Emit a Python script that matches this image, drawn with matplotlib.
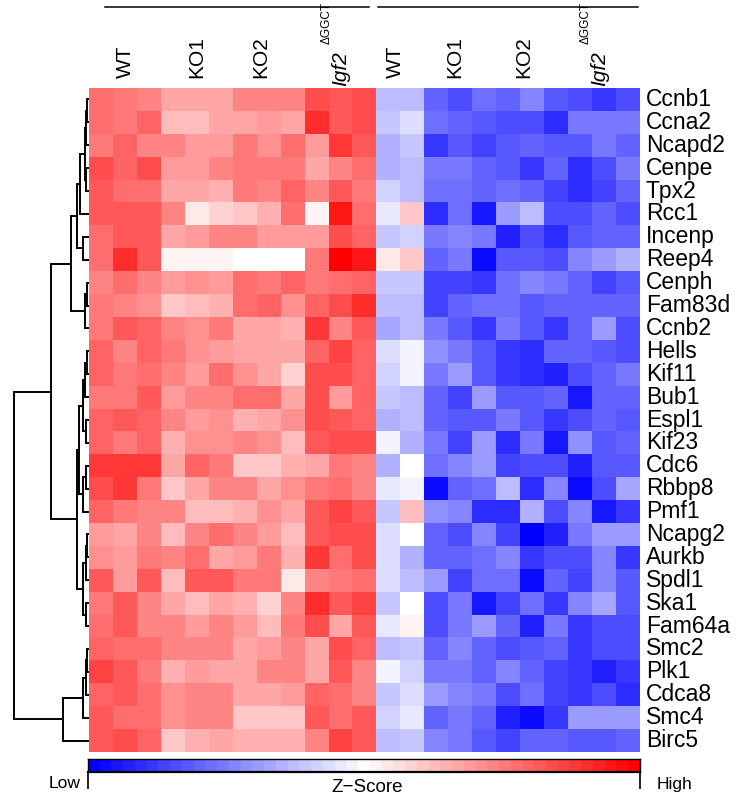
import numpy as np
import matplotlib
matplotlib.use("Agg")
import matplotlib.pyplot as plt
from matplotlib.colors import LinearSegmentedColormap
from matplotlib.transforms import blended_transform_factory, offset_copy
from matplotlib.lines import Line2D

plt.rcParams['font.family'] = ['Liberation Sans', 'DejaVu Sans']

genes = ["Ccnb1", "Ccna2", "Ncapd2", "Cenpe", "Tpx2", "Rcc1", "Incenp", "Reep4",
         "Cenph", "Fam83d", "Ccnb2", "Hells", "Kif11", "Bub1", "Espl1", "Kif23",
         "Cdc6", "Rbbp8", "Pmf1", "Ncapg2", "Aurkb", "Spdl1", "Ska1", "Fam64a",
         "Smc2", "Plk1", "Cdca8", "Smc4", "Birc5"]

group_labels = ["WT", "KO1", "KO2", "Igf2", "WT", "KO1", "KO2", "Igf2"]
group_superscripts = ["", "", "", "\u0394GGCT", "", "", "", "\u0394GGCT"]
group_sizes = [3, 3, 3, 3, 2, 3, 3, 3]

# z-scores, first block of 12 samples
zscore_left = [
    [0.55, 0.50, 0.47, 0.33, 0.33, 0.33, 0.45, 0.45, 0.45, 0.68, 0.63, 0.68],
    [0.55, 0.50, 0.60, 0.25, 0.25, 0.35, 0.35, 0.38, 0.35, 0.80, 0.65, 0.70],
    [0.50, 0.60, 0.45, 0.45, 0.40, 0.40, 0.50, 0.42, 0.55, 0.40, 0.78, 0.62],
    [0.70, 0.60, 0.68, 0.40, 0.40, 0.45, 0.50, 0.50, 0.50, 0.35, 0.48, 0.55],
    [0.62, 0.55, 0.55, 0.35, 0.35, 0.30, 0.50, 0.48, 0.58, 0.48, 0.62, 0.50],
    [0.62, 0.62, 0.62, 0.45, 0.10, 0.17, 0.20, 0.30, 0.55, 0.04, 0.88, 0.55],
    [0.57, 0.62, 0.62, 0.33, 0.38, 0.47, 0.47, 0.40, 0.40, 0.38, 0.70, 0.58],
    [0.55, 0.80, 0.65, 0.04, 0.04, 0.04, 0.00, 0.00, 0.00, 0.50, 1.00, 0.88],
    [0.45, 0.55, 0.48, 0.38, 0.42, 0.38, 0.55, 0.50, 0.58, 0.50, 0.55, 0.60],
    [0.50, 0.45, 0.42, 0.20, 0.25, 0.30, 0.55, 0.58, 0.42, 0.60, 0.68, 0.80],
    [0.50, 0.62, 0.58, 0.48, 0.42, 0.50, 0.33, 0.33, 0.30, 0.75, 0.48, 0.62],
    [0.60, 0.45, 0.58, 0.50, 0.42, 0.40, 0.33, 0.33, 0.33, 0.60, 0.72, 0.60],
    [0.60, 0.50, 0.55, 0.45, 0.40, 0.55, 0.42, 0.33, 0.17, 0.68, 0.68, 0.60],
    [0.50, 0.50, 0.62, 0.37, 0.48, 0.48, 0.55, 0.55, 0.35, 0.68, 0.40, 0.60],
    [0.58, 0.65, 0.60, 0.48, 0.40, 0.43, 0.28, 0.33, 0.43, 0.70, 0.65, 0.60],
    [0.58, 0.50, 0.60, 0.28, 0.43, 0.43, 0.48, 0.42, 0.25, 0.62, 0.68, 0.68],
    [0.75, 0.75, 0.75, 0.33, 0.60, 0.50, 0.20, 0.20, 0.28, 0.33, 0.52, 0.45],
    [0.70, 0.75, 0.50, 0.20, 0.33, 0.45, 0.45, 0.35, 0.42, 0.50, 0.55, 0.48],
    [0.58, 0.50, 0.47, 0.47, 0.25, 0.25, 0.30, 0.42, 0.35, 0.62, 0.72, 0.62],
    [0.40, 0.35, 0.47, 0.25, 0.47, 0.55, 0.47, 0.40, 0.25, 0.62, 0.68, 0.70],
    [0.42, 0.40, 0.50, 0.47, 0.55, 0.35, 0.40, 0.50, 0.30, 0.75, 0.55, 0.68],
    [0.62, 0.40, 0.62, 0.27, 0.62, 0.65, 0.50, 0.50, 0.08, 0.47, 0.52, 0.55],
    [0.50, 0.62, 0.45, 0.35, 0.25, 0.35, 0.30, 0.17, 0.45, 0.82, 0.62, 0.72],
    [0.55, 0.62, 0.45, 0.45, 0.40, 0.45, 0.40, 0.25, 0.50, 0.68, 0.35, 0.62],
    [0.60, 0.55, 0.55, 0.48, 0.48, 0.45, 0.35, 0.40, 0.45, 0.35, 0.70, 0.58],
    [0.72, 0.65, 0.50, 0.28, 0.38, 0.33, 0.35, 0.47, 0.47, 0.33, 0.62, 0.47],
    [0.60, 0.62, 0.55, 0.42, 0.47, 0.47, 0.35, 0.35, 0.40, 0.58, 0.55, 0.48],
    [0.65, 0.55, 0.55, 0.42, 0.47, 0.47, 0.22, 0.20, 0.20, 0.62, 0.55, 0.65],
    [0.62, 0.70, 0.60, 0.22, 0.30, 0.35, 0.30, 0.30, 0.28, 0.48, 0.72, 0.62],
]

# z-scores, second block of 11 samples
zscore_right = [
    [-0.25, -0.25, -0.60, -0.67, -0.55, -0.60, -0.45, -0.63, -0.68, -0.75, -0.68],
    [-0.20, -0.13, -0.55, -0.60, -0.65, -0.68, -0.68, -0.80, -0.53, -0.53, -0.53],
    [-0.28, -0.20, -0.78, -0.63, -0.72, -0.62, -0.58, -0.63, -0.63, -0.50, -0.60],
    [-0.30, -0.25, -0.53, -0.53, -0.58, -0.62, -0.78, -0.60, -0.80, -0.68, -0.52],
    [-0.17, -0.25, -0.55, -0.55, -0.60, -0.55, -0.60, -0.73, -0.80, -0.73, -0.60],
    [-0.08, 0.20, -0.80, -0.55, -0.88, -0.40, -0.25, -0.68, -0.68, -0.60, -0.70],
    [-0.20, -0.15, -0.50, -0.45, -0.50, -0.85, -0.68, -0.80, -0.63, -0.60, -0.60],
    [0.08, 0.20, -0.60, -0.50, -0.93, -0.63, -0.63, -0.68, -0.47, -0.40, -0.28],
    [-0.20, -0.20, -0.72, -0.72, -0.75, -0.55, -0.45, -0.50, -0.60, -0.72, -0.62],
    [-0.25, -0.25, -0.72, -0.60, -0.57, -0.55, -0.62, -0.58, -0.58, -0.58, -0.58],
    [-0.35, -0.25, -0.50, -0.65, -0.75, -0.53, -0.65, -0.75, -0.58, -0.38, -0.68],
    [-0.13, -0.05, -0.42, -0.53, -0.65, -0.75, -0.80, -0.58, -0.60, -0.62, -0.68],
    [-0.17, -0.05, -0.50, -0.38, -0.62, -0.75, -0.80, -0.83, -0.68, -0.60, -0.50],
    [-0.22, -0.25, -0.60, -0.72, -0.38, -0.65, -0.65, -0.60, -0.88, -0.60, -0.60],
    [-0.30, -0.25, -0.58, -0.65, -0.65, -0.50, -0.62, -0.75, -0.68, -0.60, -0.63],
    [-0.05, -0.30, -0.53, -0.72, -0.38, -0.80, -0.53, -0.88, -0.43, -0.65, -0.60],
    [-0.30, 0.00, -0.55, -0.47, -0.38, -0.72, -0.68, -0.68, -0.85, -0.65, -0.65],
    [-0.10, -0.05, -0.93, -0.60, -0.55, -0.25, -0.80, -0.47, -0.93, -0.68, -0.32],
    [-0.20, 0.27, -0.42, -0.45, -0.80, -0.80, -0.30, -0.70, -0.45, -0.88, -0.78],
    [-0.13, 0.00, -0.60, -0.67, -0.47, -0.72, -1.00, -0.83, -0.50, -0.37, -0.37],
    [-0.13, -0.30, -0.60, -0.60, -0.55, -0.45, -0.77, -0.67, -0.67, -0.45, -0.78],
    [-0.13, -0.25, -0.40, -0.72, -0.55, -0.55, -0.93, -0.60, -0.72, -0.45, -0.62],
    [-0.20, 0.00, -0.67, -0.50, -0.88, -0.72, -0.55, -0.75, -0.45, -0.33, -0.62],
    [-0.07, 0.04, -0.67, -0.50, -0.37, -0.60, -0.85, -0.53, -0.78, -0.70, -0.70],
    [-0.27, -0.20, -0.60, -0.47, -0.58, -0.67, -0.62, -0.60, -0.75, -0.67, -0.67],
    [-0.05, -0.17, -0.50, -0.50, -0.58, -0.45, -0.58, -0.72, -0.75, -0.85, -0.75],
    [-0.20, -0.13, -0.40, -0.45, -0.53, -0.67, -0.55, -0.72, -0.75, -0.70, -0.80],
    [-0.15, -0.10, -0.60, -0.53, -0.58, -0.85, -0.95, -0.75, -0.40, -0.40, -0.37],
    [-0.25, -0.20, -0.45, -0.50, -0.65, -0.72, -0.60, -0.58, -0.65, -0.65, -0.60],
]

# row dendrogram (scipy-style linkage: left, right, height); leaves 0..28
row_linkage = [
    (0, 1, 1.7), (29, 2, 3.0), (3, 4, 3.0), (30, 31, 4.0), (32, 5, 9.0),
    (6, 7, 6.3), (33, 34, 11.7), (8, 9, 1.7), (36, 10, 4.0), (35, 37, 18.0),
    (11, 12, 1.7), (39, 13, 4.0), (14, 15, 3.0), (40, 41, 5.7), (16, 17, 3.0),
    (43, 18, 5.7), (42, 44, 10.0), (19, 20, 1.7), (46, 21, 3.0), (22, 23, 3.0),
    (47, 48, 5.7), (45, 49, 12.3), (38, 50, 38.3), (24, 25, 1.7), (52, 26, 3.0),
    (53, 27, 5.7), (54, 28, 25.7), (51, 55, 75.0),
]

W, H = 736, 797
fig = plt.figure(figsize=(W / 100, H / 100), dpi=100)

def fx(px):
    return px / W

def fy(py):
    return 1 - py / H

data = np.hstack([np.array(zscore_left), np.array(zscore_right)])
nrow, ncol = data.shape

cmap = LinearSegmentedColormap.from_list("blue_white_red", ["#0000FF", "#FFFFFF", "#FF0000"], N=47)

hm_left, hm_right, hm_top, hm_bot = 89, 640, 88, 752
ax = fig.add_axes([fx(hm_left), fy(hm_bot), fx(hm_right - hm_left), (hm_bot - hm_top) / H])
ax.imshow(data, cmap=cmap, vmin=-1, vmax=1, aspect='auto', interpolation='nearest',
          extent=(0, ncol, nrow, 0))
ax.set_xlim(0, ncol)
ax.set_ylim(nrow, 0)
ax.axis('off')

# row labels
for i, g in enumerate(genes):
    ax.text(ncol + 0.25, i + 0.5, g, ha='left', va='center', fontsize=16.5, clip_on=False)

# column group labels (placed near the middle of each sample group)
tr = blended_transform_factory(ax.transData, fig.transFigure)
label_shift = [0.0, 0.0, -0.32, 0.0, -0.23, -0.22, -0.34, -0.17]
start = 0
for lab, sup, n, sh in zip(group_labels, group_superscripts, group_sizes, label_shift):
    c = start + n / 2 + sh
    if sup:
        ax.text(c, fy(86), lab, rotation=90, rotation_mode='anchor', ha='left',
                va='center', fontsize=15, style='italic', transform=tr, clip_on=False)
        ax.text(c, fy(44), sup, rotation=90, rotation_mode='anchor', ha='left',
                va='center', fontsize=8.5,
                family=['Liberation Sans Narrow', 'Liberation Sans', 'DejaVu Sans'],
                transform=offset_copy(tr, fig=fig, x=-14, y=0, units='dots'),
                clip_on=False)
    else:
        ax.text(c, fy(78), lab, rotation=90, rotation_mode='anchor', ha='left',
                va='center', fontsize=15, transform=tr, clip_on=False)
    start += n

# top bracket lines over each half
nleft = len(zscore_left[0])
for x0, x1 in [(0.67, nleft - 0.3), (nleft + 0.06, ncol - 0.1)]:
    ax.add_line(Line2D([x0, x1], [fy(7), fy(7)], transform=tr, color='black', lw=1.1,
                       clip_on=False))

# dendrogram
dax = fig.add_axes([0, fy(hm_bot), fx(hm_left), (hm_bot - hm_top) / H])
dax.set_xlim(hm_left, 0)
dax.set_ylim(nrow, 0)
dax.axis('off')
pos = {i: (i + 0.5, 0.0) for i in range(nrow)}
for k, (a, b, h) in enumerate(row_linkage):
    ya, ha = pos[a]
    yb, hb = pos[b]
    dax.plot([ha, h, h, hb], [ya, ya, yb, yb], color='black', lw=1.4,
             solid_joinstyle='miter', solid_capstyle='butt')
    pos[nrow + k] = ((ya + yb) / 2, h)

# colour key
cax = fig.add_axes([fx(88), fy(772), fx(640 - 88), 13 / H])
grad = np.linspace(-1, 1, 47).reshape(1, -1)
cax.imshow(grad, cmap=cmap, vmin=-1, vmax=1, aspect='auto', extent=(0, 1, 0, 1))
cax.set_xlim(0, 1)
cax.set_ylim(0, 1)
cax.set_xticks([0, 1])
cax.set_xticklabels([])
cax.set_yticks([])
cax.tick_params(axis='x', length=12, width=1.2, direction='out')
for s in cax.spines.values():
    s.set_linewidth(1.0)
cax.spines['bottom'].set_linewidth(1.6)

fig.text(fx(65), fy(784), "Low", ha='center', va='center', fontsize=12.5)
fig.text(fx(674), fy(784), "High", ha='center', va='center', fontsize=12.5)
fig.text(fx(367), fy(787), "Z\u2212Score", ha='center', va='center', fontsize=13.5)

fig.savefig("out.png", dpi=100)
